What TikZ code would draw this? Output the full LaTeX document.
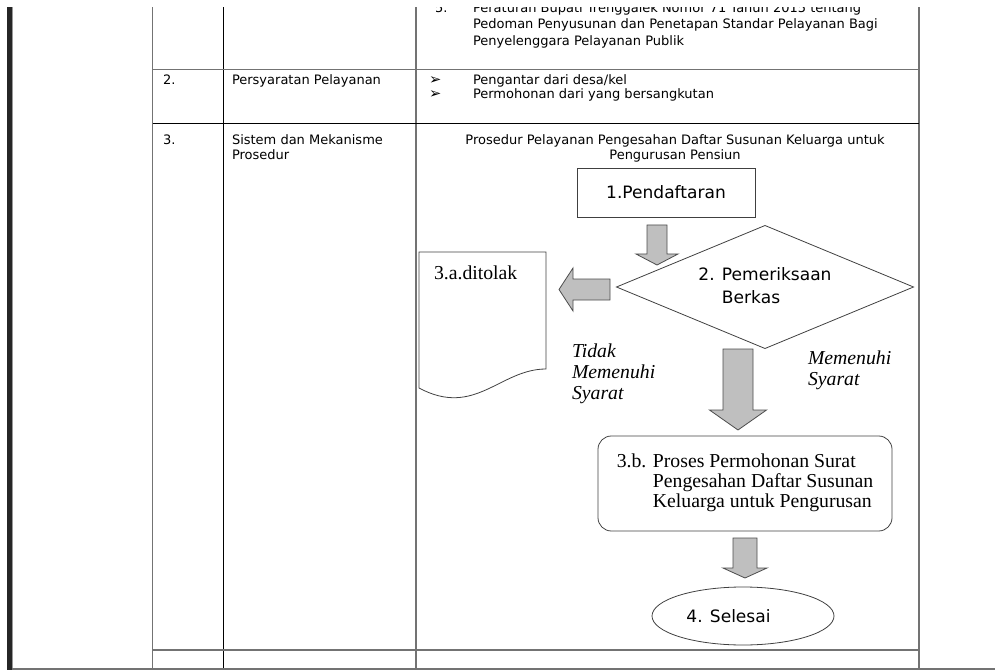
\documentclass[tikz,border=0pt]{standalone}
\usepackage{fontspec}
\setmainfont{DejaVu Sans}
\newfontfamily\seriffnt{Liberation Serif}
\usetikzlibrary{shapes.geometric}

\begin{document}
\begin{tikzpicture}[
		x = 0.75pt, y = -0.75pt,
		every node/.style = {inner sep=0pt, outer sep=0pt},
		tbltext/.style = {anchor=base west, font=\fontsize{9.75}{12}\selectfont},
		bullet/.style = {anchor=base west, font=\fontsize{11}{12}\selectfont},
		gridgray/.style = {draw=black!55, line width=0.9pt},
		gridblack/.style = {draw=black, line width=0.75pt},
		shapeline/.style = {draw=black!75, line width=0.6pt},
		blk/.style = {fill=black!25, draw=black!70, line width=0.6pt},
		sanslbl/.style = {font=\fontsize{12.8}{17.25}\selectfont},
		seriflbl/.style = {font=\seriffnt\fontsize{14.8}{14.6}\selectfont},
		notelbl/.style = {font=\seriffnt\itshape\fontsize{14.8}{16}\selectfont, align=left, anchor=north west}
	]

	\useasboundingbox (0,0) rectangle (995,670);
	\clip (0,7.5) rectangle (995,670);

	% table
	\fill[black!85] (7,7.5) rectangle (12,670);
	\draw[black!40, line width=0.75pt] (12.5,7.5) -- (12.5,670);
	\foreach \x in {152.7,416,919}
		\draw[gridgray] (\x,7.5) -- (\x,670);
	\draw[gridblack] (223.3,7.5) -- (223.3,670);
	\draw[gridgray] (152.7,69.3) -- (919,69.3);
	\draw[gridblack] (152.7,124) -- (919,124);
	\draw[gridgray] (152.7,650) -- (919,650);
	\draw[gridgray] (12,669) -- (995,669);

	\node[tbltext] (r1num) at (435,12.5) {5.};
	\node[tbltext] (r1a) at (473,12.5) {Peraturan Bupati Trenggalek Nomor 71 Tahun 2015 tentang};
	\node[tbltext] (r1b) at (473,29) {Pedoman Penyusunan dan Penetapan Standar Pelayanan Bagi};
	\node[tbltext] (r1c) at (473,45.5) {Penyelenggara Pelayanan Publik};

	\node[tbltext] (r2num) at (163,85) {2.};
	\node[tbltext] (r2name) at (232,85) {Persyaratan Pelayanan};
	\node[bullet] (r2bulleta) at (429,85) {➢};
	\node[tbltext] (r2a) at (473,85) {Pengantar dari desa/kel};
	\node[bullet] (r2bulletb) at (429,98.5) {➢};
	\node[tbltext] (r2b) at (473,98.5) {Permohonan dari yang bersangkutan};

	\node[tbltext] (r3num) at (163,145) {3.};
	\node[tbltext] (r3name) at (232,145) {Sistem dan Mekanisme};
	\node[tbltext] (r3nameb) at (232,160) {Prosedur};
	\node[tbltext, anchor=base] (title) at (675,145) {Prosedur Pelayanan Pengesahan Daftar Susunan Keluarga untuk};
	\node[tbltext, anchor=base] (titleb) at (675,160) {Pengurusan Pensiun};

	% flowchart
	\node[shapeline, sanslbl, minimum width=133.5pt, minimum height=36.75pt] (daftar) at (666,192.5) {1.Pendaftaran};
	\node[diamond, shapeline, sanslbl, shape aspect=2.41, minimum width=222.75pt, minimum height=92.25pt] (periksa) at (765,287)
		{\begin{tabular}{@{}l@{ }l@{}}2. & Pemeriksaan\\ & Berkas\end{tabular}};
	\node[shapeline, seriflbl, rounded corners=10pt, minimum width=220.5pt, minimum height=71.25pt] (proses) at (745,483.5)
		{\begin{tabular}{@{}l@{ }l@{}}3.b. & Proses Permohonan Surat\\ & Pengesahan Daftar Susunan\\ & Keluarga untuk Pengurusan\end{tabular}};
	\node[ellipse, shapeline, sanslbl, minimum width=136.5pt, minimum height=43.5pt] (selesai) at (743,616) {4. Selesai\kern21.75pt};

	\draw[shapeline] (419,252) -- (546,252) -- (546,369) .. controls (500,369) and (475,418) .. (419,388) -- cycle;
	\node[seriflbl, anchor=base west] (ditolak) at (434,279) {3.a.ditolak};

	\node[notelbl] (tidak) at (572,343.5) {Tidak\\Memenuhi\\Syarat};
	\node[notelbl] (memenuhi) at (808,350.5) {Memenuhi\\Syarat};

	\foreach \cx/\ytop/\ybase/\ytip/\sw/\hw in {657/225/254/265/10/21, 738/349/410/430/15/28.5, 745/538/568/578/12/22}
		\filldraw[blk] (\cx-\sw,\ytop) -- (\cx+\sw,\ytop) -- (\cx+\sw,\ybase) -- (\cx+\hw,\ybase)
			-- (\cx,\ytip) -- (\cx-\hw,\ybase) -- (\cx-\sw,\ybase) -- cycle;
	\filldraw[blk] (610,279) -- (610,300) -- (573,300) -- (573,311) -- (559,289.5) -- (573,268) -- (573,279) -- cycle;

\end{tikzpicture}
\end{document}
